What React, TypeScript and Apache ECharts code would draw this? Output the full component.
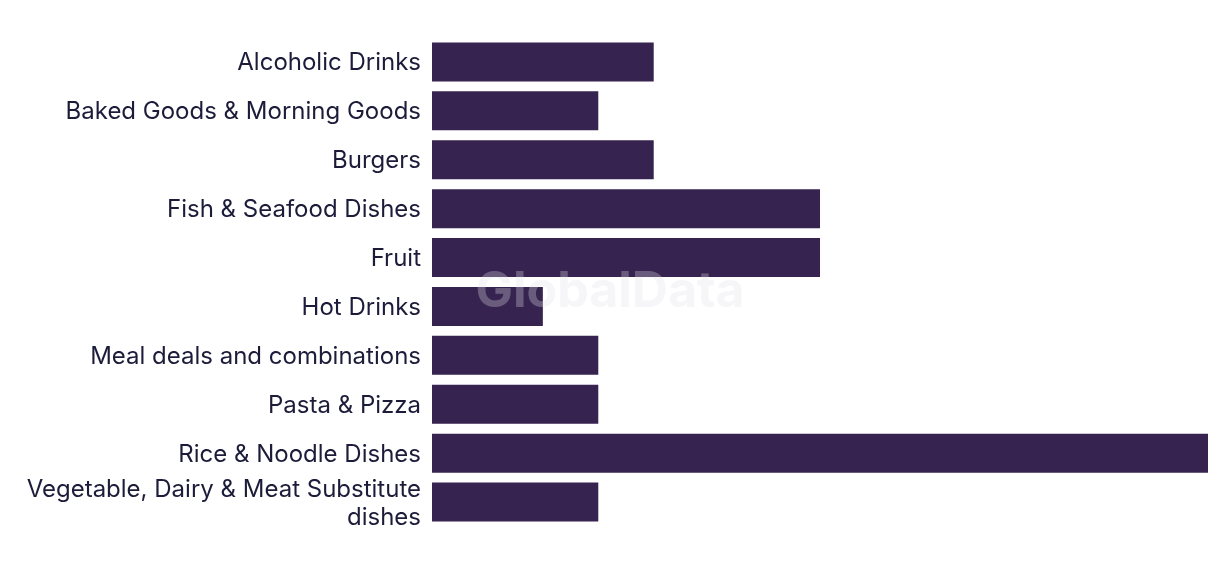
import React, { useEffect, useRef } from "react";
import * as echarts from "echarts";

const categories = [
  "Alcoholic Drinks",
  "Baked Goods & Morning Goods",
  "Burgers",
  "Fish & Seafood Dishes",
  "Fruit",
  "Hot Drinks",
  "Meal deals and combinations",
  "Pasta & Pizza",
  "Rice & Noodle Dishes",
  "Vegetable, Dairy & Meat Substitute\ndishes",
];
const values = [4, 3, 4, 7, 7, 2, 3, 3, 14, 3];

export default function App() {
  const ref = useRef<HTMLDivElement>(null);
  useEffect(() => {
    if (!ref.current) return;
    const chart = echarts.init(ref.current, undefined, { renderer: "svg" });
    chart.setOption({
      animation: false,
      grid: { left: 432, right: 12, top: 37.5, height: 489 },
      xAxis: {
        type: "value",
        min: 0,
        max: 14,
        show: false,
      },
      yAxis: {
        type: "category",
        inverse: true,
        data: categories,
        axisLine: { show: false },
        axisTick: { show: false },
        axisLabel: {
          margin: 11,
          color: "#1c1c3a",
          fontFamily: "Inter, sans-serif",
          fontSize: 24,
          lineHeight: 28,
        },
      },
      series: [
        {
          type: "bar",
          data: values,
          barWidth: 39,
          itemStyle: { color: "#372350" },
        },
      ],
      graphic: [
        {
          type: "text",
          x: 610,
          y: 289,
          z: 100,
          style: {
            text: "GlobalData",
            font: "bold 50px Inter, sans-serif",
            fill: "rgba(225,225,232,0.3)",
            textAlign: "center",
            textVerticalAlign: "middle",
          },
        },
      ],
    });
    return () => chart.dispose();
  }, []);
  return (
    <div
      ref={ref}
      style={{ position: "fixed", left: 0, top: 0, width: 1220, height: 574 }}
    />
  );
}
